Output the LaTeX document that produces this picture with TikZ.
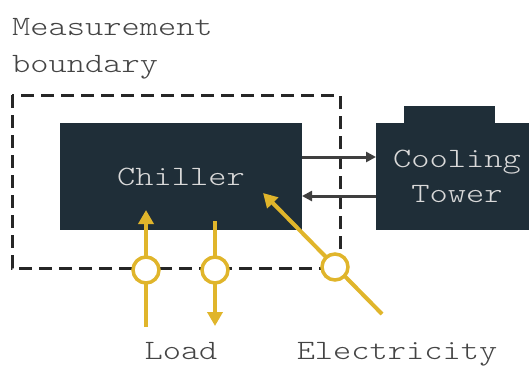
\documentclass[tikz,border=0pt]{standalone}
\usepackage{fontspec}
\setmainfont{lmmonolt10-regular.otf}[FakeStretch=1.24]
\usetikzlibrary{arrows.meta}
\definecolor{navy}{HTML}{1F2E38}
\definecolor{gold}{HTML}{E0B52B}
\definecolor{txt}{HTML}{444444}
\definecolor{arr}{HTML}{3F3F3F}
\tikzset{
  box/.style={fill=navy, draw=none, inner sep=0pt, text=white!85!black, font=\fontsize{28}{35}\selectfont, align=center},
  meter/.style={circle, draw=gold, fill=white, line width=3.5pt, minimum size=26pt, inner sep=0pt},
  flow/.style={draw=gold, line width=4pt, -{Triangle[width=15pt,length=14pt]}},
  link/.style={draw=arr, line width=3pt, -{Triangle[width=10pt,length=10pt]}},
  lbl/.style={text=txt, inner sep=0pt, font=\fontsize{28}{37}\selectfont},
}
\begin{document}
\begin{tikzpicture}[x=1pt,y=-1pt]
\useasboundingbox (0,0) rectangle (529,365);
\clip (0,0) rectangle (529,365);
% boundary
\draw[line width=3pt, color=black!85, dash pattern=on 13pt off 7pt] (12,95) rectangle (340,268);
% chiller
\node[box, minimum width=242pt, minimum height=107pt] (ch) at (181,176.5) {Chiller};
% tower
\node[fill=navy, minimum width=91pt, minimum height=18pt, inner sep=0pt] (tt) at (449.5,115) {};
\node[box, minimum width=162pt, minimum height=107pt] (tw) at (457,176.5) {Cooling\\Tower};
% links
\coordinate (a1) at (302,157);
\coordinate (a2) at (376,157);
\coordinate (b1) at (376,196);
\coordinate (b2) at (302,196);
\draw[link] (a1) -- (a2);
\draw[link] (b1) -- (b2);
% meters
\coordinate (l1s) at (146,327);
\coordinate (l1e) at (146,210);
\coordinate (l2s) at (215,221);
\coordinate (l2e) at (215,326);
\coordinate (es) at (382,314);
\coordinate (ee) at (263,193);
\draw[flow] (l1s) -- (l1e);
\draw[flow] (l2s) -- (l2e);
\draw[flow] (es) -- (ee);
\node[meter] (m1) at (146,270) {};
\node[meter] (m2) at (215,270) {};
\node[meter] (m3) at (335,267) {};
% labels
\node[lbl, align=left, anchor=base west] (mb) at (12,72) {Measurement\\boundary};
\node[lbl, anchor=base] (load) at (181,359) {Load};
\node[lbl, anchor=base] (el) at (397,359) {Electricity};
\end{tikzpicture}
\end{document}
